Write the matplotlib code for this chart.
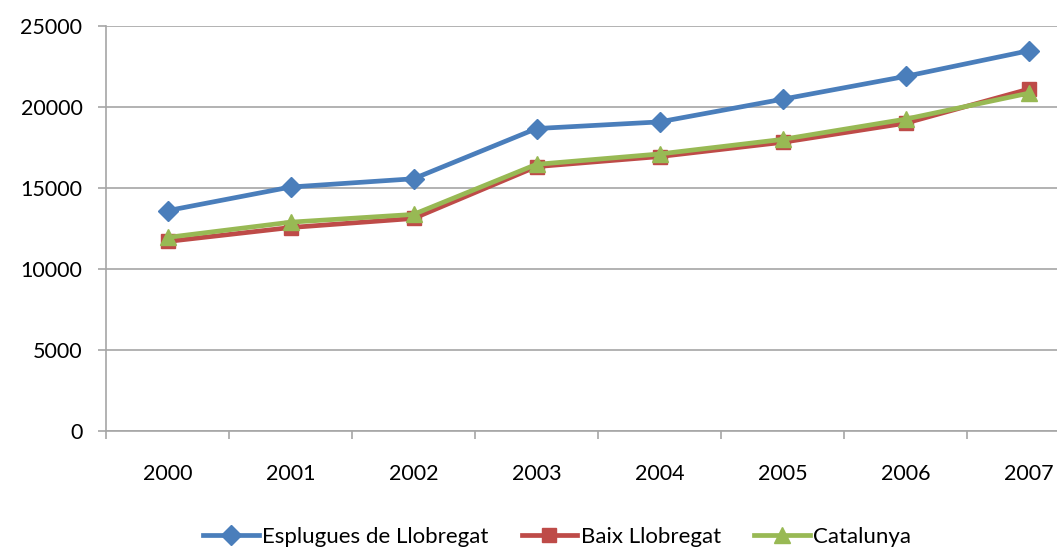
import matplotlib
matplotlib.use('Agg')
import matplotlib.pyplot as plt
from matplotlib.ticker import MultipleLocator, FixedLocator

years = ['2000', '2001', '2002', '2003', '2004', '2005', '2006', '2007']
esplugues = [13600, 15060, 15570, 18670, 19080, 20480, 21890, 23470]
baix = [11700, 12560, 13120, 16320, 16940, 17820, 19000, 21100]
catalunya = [11950, 12890, 13370, 16460, 17100, 18000, 19250, 20850]

series = [
    ('Esplugues de Llobregat', esplugues, '#4a7ebb', 'D', 10),
    ('Baix Llobregat', baix, '#be4b48', 's', 10),
    ('Catalunya', catalunya, '#98b954', '^', 11),
]

plt.rcParams['font.family'] = ['Lato', 'DejaVu Sans']

fig = plt.figure(figsize=(10.57, 5.49), dpi=100)
ax = fig.add_axes([106/1057, 118/549, 984/1057, 405/549])

x = list(range(len(years)))
for name, vals, col, mk, ms in series:
    ax.plot(x, vals, color=col, lw=3.4, marker=mk, markersize=ms, label=name)

ax.set_xlim(-0.5, len(years) - 0.5)
ax.set_ylim(0, 25000)
ax.yaxis.set_major_locator(MultipleLocator(5000))
ax.grid(axis='y', color='#a6a6a6', lw=1.2)
ax.set_axisbelow(True)

ax.set_xticks(x)
ax.set_xticklabels(years)
ax.xaxis.set_minor_locator(FixedLocator([i - 0.5 for i in range(len(years) + 1)]))
ax.tick_params(axis='x', which='major', length=0, pad=24, labelsize=15.5)
ax.tick_params(axis='x', which='minor', length=6, color='#a6a6a6', width=1.2)
ax.tick_params(axis='y', length=6, color='#a6a6a6', width=1.2, pad=11, labelsize=15.5)

for s in ['top', 'right']:
    ax.spines[s].set_visible(False)
for s in ['left', 'bottom']:
    ax.spines[s].set_color('#a6a6a6')
    ax.spines[s].set_linewidth(1.2)

fig.legend(loc='lower center', bbox_to_anchor=(557/1057, 0), ncol=3, frameon=False,
           fontsize=16, handlelength=2.5, columnspacing=1.5, handletextpad=0.15,
           borderaxespad=0, borderpad=0.1)

fig.savefig('out.png', dpi=100, facecolor='white')
